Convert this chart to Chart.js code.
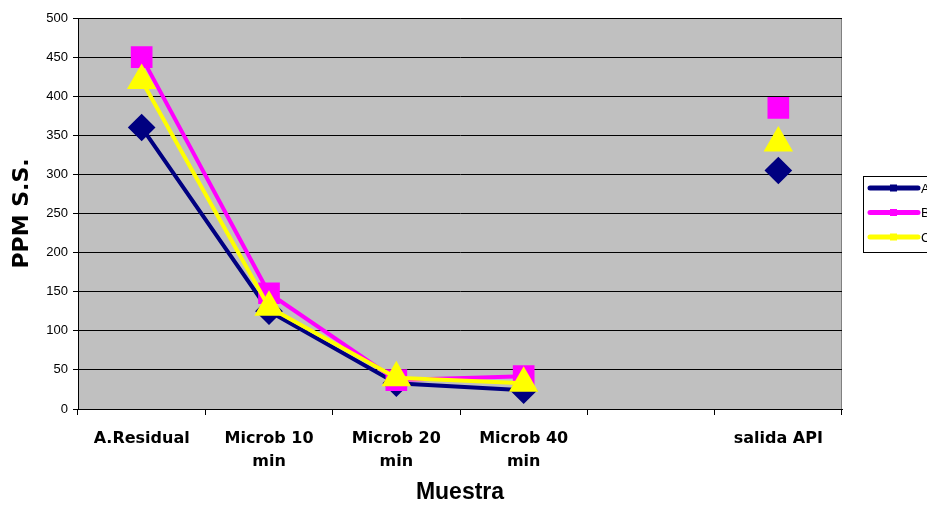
<!DOCTYPE html>
<html>
<head>
<meta charset="utf-8">
<script src="https://cdn.jsdelivr.net/npm/chart.js@4/dist/chart.umd.min.js"></script>
<style>
  html, body { margin: 0; padding: 0; background: #fff; overflow: hidden; }
  #wrap { width: 927px; height: 506px; position: relative; }
</style>
</head>
<body>
<div id="wrap"><canvas id="myChart"></canvas></div>
<script>
// Categories (5th slot is empty in the original)
const categories = [['A.Residual'], ['Microb 10', 'min'], ['Microb 20', 'min'], ['Microb 40', 'min'], [''], ['salida API']];

// Series values (PPM S.S.)
const seriesA = [360, 125, 33, 24, null, 305];
const seriesB = [450, 148, 37, 42, null, 385];
const seriesC = [420, 130, 40, 33, null, 340];

const seriesNames = ['A', 'B', 'C'];
const yTicks = [0, 50, 100, 150, 200, 250, 300, 350, 400, 450, 500];

const FONT = "Arial, 'Liberation Sans', sans-serif";
const WIDE = "'DejaVu Sans', Arial, sans-serif";

// Gray plot area background + frame
const plotBg = {
    id: 'plotBg',
    beforeDraw(chart) {
        const { ctx, chartArea: a } = chart;
        ctx.save();
        ctx.fillStyle = '#c0c0c0';
        ctx.fillRect(a.left, a.top, a.right - a.left, a.bottom - a.top);
        ctx.strokeStyle = '#808080';
        ctx.lineWidth = 1;
        ctx.strokeRect(a.left + 0.5, a.top + 0.5, a.right - a.left - 1, a.bottom - a.top);
        ctx.restore();
    }
};

// Legend box on the right (cut off by the page edge, like the original)
const sideLegend = {
    id: 'sideLegend',
    afterDraw(chart) {
        const ctx = chart.ctx;
        const x0 = 863, y0 = 176;
        ctx.save();
        ctx.fillStyle = '#fff';
        ctx.fillRect(x0, y0, 120, 76);
        ctx.strokeStyle = '#000';
        ctx.lineWidth = 1;
        ctx.strokeRect(x0 + 0.5, y0 + 0.5, 120, 76);
        chart.data.datasets.forEach((ds, i) => {
            const y = y0 + 12 + i * 24.5;
            ctx.strokeStyle = ds.borderColor;
            ctx.lineWidth = 5;
            ctx.lineCap = 'round';
            ctx.beginPath();
            ctx.moveTo(870, y);
            ctx.lineTo(918, y);
            ctx.stroke();
            ctx.fillStyle = ds.borderColor;
            ctx.fillRect(890, y - 3.5, 7, 7);
            ctx.fillStyle = '#000';
            ctx.font = '13px ' + FONT;
            ctx.textBaseline = 'middle';
            ctx.fillText(ds.label, 921, y + 1);
        });
        ctx.restore();
    }
};

new Chart(document.getElementById('myChart').getContext('2d'), {
    type: 'line',
    data: {
        labels: categories,
        datasets: [
            { label: seriesNames[0], data: seriesA, borderColor: '#000080', backgroundColor: '#000080',
              pointStyle: 'rectRot', pointRadius: 11, borderWidth: 4, order: 2 },
            { label: seriesNames[1], data: seriesB, borderColor: '#ff00ff', backgroundColor: '#ff00ff',
              pointStyle: 'rect', pointRadius: 12.5, borderWidth: 4, order: 1 },
            { label: seriesNames[2], data: seriesC, borderColor: '#ffff00', backgroundColor: '#ffff00',
              pointStyle: 'triangle', pointRadius: 13, borderWidth: 4, order: 0 }
        ]
    },
    options: {
        responsive: true,
        maintainAspectRatio: false,
        animation: false,
        spanGaps: false,
        elements: { line: { tension: 0 }, point: { borderWidth: 0 } },
        layout: { padding: { top: 18, right: 85, left: 0, bottom: 0 } },
        plugins: { legend: { display: false }, tooltip: { enabled: false } },
        scales: {
            x: {
                offset: true,
                grid: { offset: true, drawOnChartArea: false, color: '#000', tickLength: 6 },
                border: { color: '#000', width: 1 },
                ticks: { color: '#000', font: { family: WIDE, size: 16, weight: 'bold', lineHeight: 1.45 },
                         padding: 12, maxRotation: 0, autoSkip: false },
                title: { display: true, text: 'Muestra', color: '#000',
                         font: { family: FONT, size: 23, weight: 'bold' }, padding: { top: 8, bottom: 0 } },
                afterFit(scale) { scale.height = 97; }
            },
            y: {
                min: 0, max: 500,
                afterBuildTicks(scale) { scale.ticks = yTicks.map(v => ({ value: v })); },
                grid: { color: '#000', lineWidth: 1, tickLength: 5 },
                border: { color: '#000', width: 1 },
                ticks: { color: '#000', font: { family: FONT, size: 13 }, padding: 5 },
                title: { display: true, text: 'PPM S.S.', color: '#000',
                         font: { family: WIDE, size: 22, weight: 'bold' }, padding: { top: 9, bottom: 4 } },
                afterFit(scale) { scale.width = 78; }
            }
        }
    },
    plugins: [plotBg, sideLegend]
});
</script>
</body>
</html>
